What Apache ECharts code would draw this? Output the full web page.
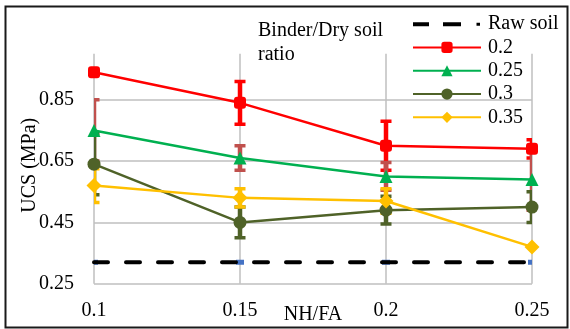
<!DOCTYPE html>
<html>
<head>
<meta charset="utf-8">
<script src="https://cdn.jsdelivr.net/npm/echarts@6/dist/echarts.min.js"></script>
<style>
  html, body { margin: 0; padding: 0; background: #fff; }
  #chart { width: 570px; height: 329px; }
</style>
</head>
<body>
<div id="chart"></div>
<script>
// NH/FA ratios on the horizontal axis
const categories = ['0.1', '0.15', '0.2', '0.25'];

// Untreated soil reference level (MPa)
const rawSoil = [0.32, 0.32, 0.32, 0.32];

// UCS (MPa) for each binder / dry soil ratio, with +/- error
const ucs020 = [0.94, 0.84, 0.70, 0.69];
const err020 = [0, 0.07, 0.08, 0.03];
const ucs025 = [0.75, 0.66, 0.60, 0.59];
const err025 = [0.10, 0.04, 0.045, 0.10];
const ucs030 = [0.64, 0.45, 0.49, 0.50];
const err030 = [0.10, 0.05, 0.045, 0.05];
const ucs035 = [0.57, 0.53, 0.52, 0.37];
const err035 = [0.055, 0.03, 0.04, 0];

// Labelled values on the UCS axis
const yTickLabels = [0.25, 0.45, 0.65, 0.85];

const FONT = 'Liberation Serif';

const groups = [
  { name: '0.2',  values: ucs020, errors: err020, color: '#ff0000', errColor: '#ff0000', symbol: 'roundRect', size: 12 },
  { name: '0.25', values: ucs025, errors: err025, color: '#00b050', errColor: '#c0504d', symbol: 'triangle',  size: 13 },
  { name: '0.3',  values: ucs030, errors: err030, color: '#4f6228', errColor: '#4f6228', symbol: 'circle',    size: 13 },
  { name: '0.35', values: ucs035, errors: err035, color: '#ffc000', errColor: '#ffc000', symbol: 'diamond',   size: 15 }
];

// Vertical error bar with caps, drawn through the axis scales
function errorBarRenderer(color) {
  return function (params, api) {
    const idx = api.value(0);
    const lo = api.coord([idx, api.value(1)]);
    const hi = api.coord([idx, api.value(2)]);
    const barW = 4.5, capW = 11, capH = 3.5;
    return {
      type: 'group',
      children: [
        { type: 'rect', shape: { x: lo[0] - barW / 2, y: hi[1], width: barW, height: lo[1] - hi[1] }, style: { fill: color } },
        { type: 'rect', shape: { x: hi[0] - capW / 2, y: hi[1] - capH / 2, width: capW, height: capH }, style: { fill: color } },
        { type: 'rect', shape: { x: lo[0] - capW / 2, y: lo[1] - capH / 2, width: capW, height: capH }, style: { fill: color } }
      ]
    };
  };
}

const series = [];

// Error bars sit beneath the lines and markers
groups.forEach(g => {
  const data = [];
  g.values.forEach((v, i) => {
    if (g.errors[i] > 0) data.push([i, v - g.errors[i], v + g.errors[i]]);
  });
  series.push({
    type: 'custom',
    name: g.name + ' error',
    z: 1,
    clip: true,
    silent: true,
    encode: { x: 0, y: [1, 2] },
    data: data,
    renderItem: errorBarRenderer(g.errColor)
  });
});

// Small square markers of the raw soil series, partly hidden by the dashes
series.push({
  type: 'custom',
  name: 'Raw soil markers',
  z: 1,
  clip: true,
  silent: true,
  encode: { x: 0, y: 1 },
  data: rawSoil.map((v, i) => [i, v]),
  renderItem: function (params, api) {
    const p = api.coord([api.value(0), api.value(1)]);
    return { type: 'rect', shape: { x: p[0] - 4, y: p[1] - 2.5, width: 8, height: 5 }, style: { fill: '#4472c4' } };
  }
});

series.push({
  type: 'line',
  name: 'Raw soil',
  data: rawSoil,
  symbol: 'none',
  z: 3,
  lineStyle: { color: '#000', width: 4, type: [14, 18], cap: 'round' },
  itemStyle: { color: '#000' }
});

groups.forEach(g => {
  series.push({
    type: 'line',
    name: g.name,
    data: g.values,
    symbol: g.symbol,
    symbolSize: g.size,
    z: 4,
    lineStyle: { color: g.color, width: 2.5 },
    itemStyle: { color: g.color }
  });
});

// Legend key for the raw soil line: dash, dash, dot (corner points fix the box size)
const rawSoilIcon = 'path://M0,0L0,0M68,14L68,14' +
  'M0,5L16,5L16,9L0,9Z' +
  'M30,5L48,5L48,9L30,9Z' +
  'M63.5,5.5L67,5.5L67,8.5L63.5,8.5Z';

const chart = echarts.init(document.getElementById('chart'), null, { renderer: 'canvas' });

chart.setOption({
  animation: false,
  backgroundColor: '#fff',
  textStyle: { fontFamily: FONT, color: '#000' },
  title: {
    text: 'Binder/Dry soil\nratio',
    left: 258,
    top: 19,
    padding: 0,
    textStyle: { fontFamily: FONT, fontSize: 20, fontWeight: 'normal', color: '#000', lineHeight: 24 }
  },
  legend: {
    orient: 'vertical',
    left: 412,
    top: 14,
    padding: 0,
    itemGap: 3,
    itemWidth: 68,
    itemHeight: 14,
    data: [
      { name: 'Raw soil', icon: rawSoilIcon },
      '0.2', '0.25', '0.3', '0.35'
    ],
    textStyle: { fontFamily: FONT, fontSize: 20, color: '#000', lineHeight: 20.3, padding: [0, 0, 0, 2] }
  },
  grid: { left: 94, right: 38, top: 53.8, bottom: 45.3, containLabel: false, outerBoundsMode: 'none' },
  xAxis: {
    type: 'category',
    data: categories,
    boundaryGap: false,
    name: 'NH/FA',
    nameLocation: 'middle',
    nameGap: 20,
    nameMoveOverlap: false,
    nameTextStyle: { fontFamily: FONT, fontSize: 20, color: '#000', lineHeight: 22 },
    axisLine: { show: false },
    axisTick: { show: false },
    axisLabel: { fontFamily: FONT, fontSize: 20, color: '#000', margin: 16, lineHeight: 22 },
    splitLine: { show: true, lineStyle: { color: '#bfbfbf', width: 1.5 } }
  },
  yAxis: {
    type: 'value',
    min: 0.25,
    max: 1.0,
    interval: 0.05,
    name: 'UCS (MPa)',
    nameLocation: 'middle',
    nameGap: 54,
    nameMoveOverlap: false,
    nameTextStyle: { fontFamily: FONT, fontSize: 20, color: '#000', padding: [0, 0, 0, 7] },
    axisLine: { show: false },
    axisTick: { show: false },
    axisLabel: {
      fontFamily: FONT,
      fontSize: 20,
      color: '#000',
      margin: 20,
      formatter: function (v) {
        const hit = yTickLabels.find(t => Math.abs(t - v) < 1e-6);
        return hit === undefined ? '' : hit.toFixed(2);
      }
    },
    splitLine: {
      show: true,
      lineStyle: { color: ['#bfbfbf', 'rgba(0,0,0,0)', 'rgba(0,0,0,0)', 'rgba(0,0,0,0)'], width: 1.5 }
    }
  },
  graphic: [{
    type: 'rect',
    shape: { x: 5.5, y: 6.5, width: 562, height: 321 },
    style: { fill: 'none', stroke: '#1a1a1a', lineWidth: 2 },
    silent: true,
    z: 100
  }],
  series: series
});
</script>
</body>
</html>
